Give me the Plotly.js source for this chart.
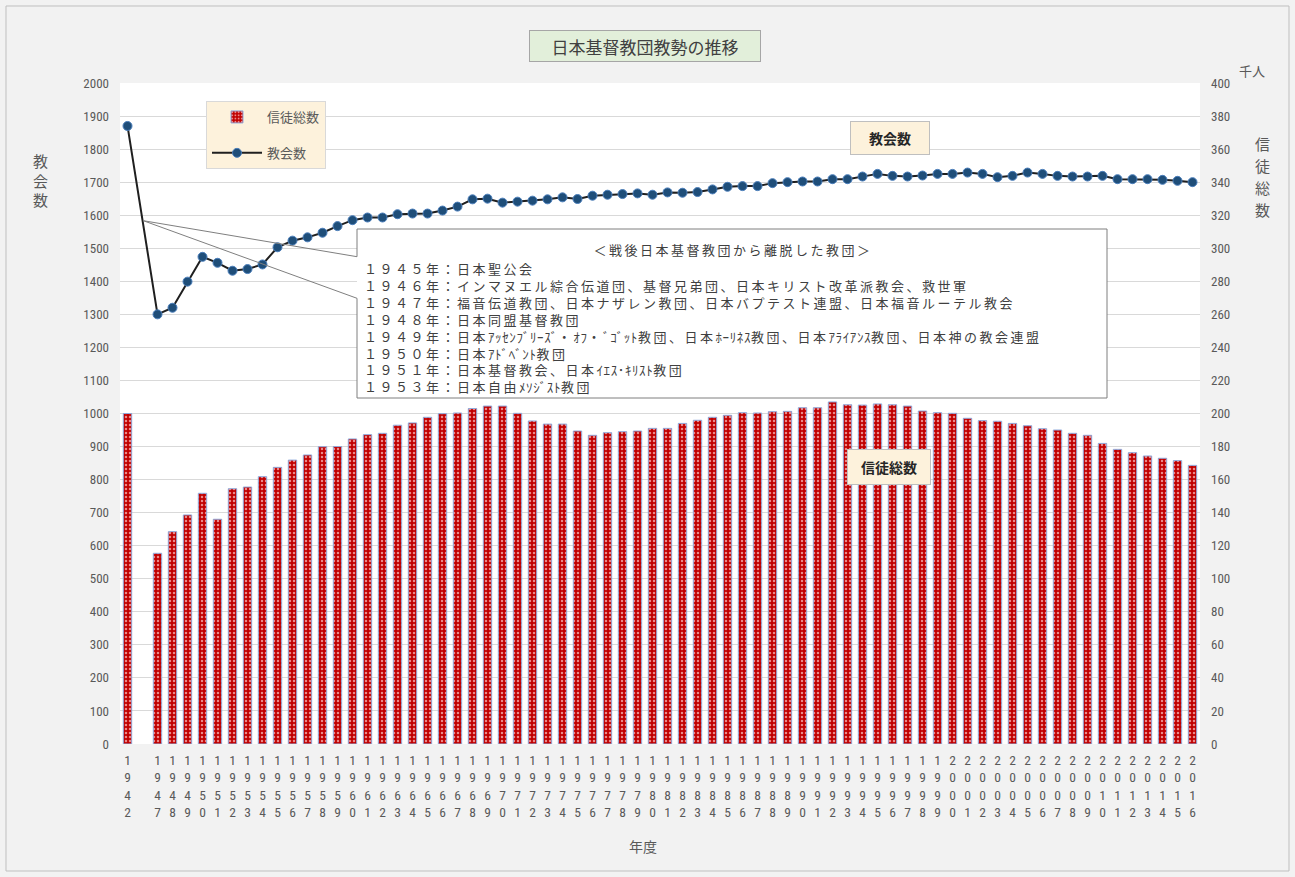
<!DOCTYPE html>
<html>
<head>
<meta charset="utf-8">
<script src="https://cdn.plot.ly/plotly-3.0.1.min.js"></script>
<style>
html,body{margin:0;padding:0;background:#f2f2f2;}
#chart{width:1295px;height:877px;}
g.annotation[data-index="7"] text, g.annotation[data-index="8"] text{letter-spacing:2.5px;}
</style>
</head>
<body>
<div id="chart"></div>
<script>
// ---- data ----
const categories = ["1942"," ","1947","1948","1949","1950","1951","1952","1953","1954","1955","1956","1957","1958","1959",
"1960","1961","1962","1963","1964","1965","1966","1967","1968","1969","1970","1971","1972","1973","1974","1975","1976",
"1977","1978","1979","1980","1981","1982","1983","1984","1985","1986","1987","1988","1989","1990","1991","1992","1993",
"1994","1995","1996","1997","1998","1999","2000","2001","2002","2003","2004","2005","2006","2007","2008","2009","2010",
"2011","2012","2013","2014","2015","2016"];

// 信徒総数 (千人)
const members = [200.0,null,115.4,128.5,138.6,151.7,136.0,154.5,155.5,161.8,167.4,171.8,174.9,179.9,180.0,
184.6,187.2,188.0,192.9,194.3,197.7,199.9,200.3,203.0,204.5,204.5,200.1,195.5,193.6,193.6,189.4,186.8,
188.4,189.0,189.4,191.0,191.0,194.0,195.9,197.7,198.9,200.5,200.3,201.1,201.3,203.5,203.5,207.0,205.3,
205.1,205.8,205.3,204.5,201.5,200.5,200.1,197.1,195.7,195.3,194.0,192.6,190.8,190.0,188.0,186.8,181.9,
178.3,176.3,174.3,172.9,171.5,168.6];

// 教会数
const churches = [1870,null,1300,1320,1399,1474,1456,1432,1437,1451,1503,1523,1533,1547,1567,
1585,1593,1593,1603,1605,1605,1614,1626,1648,1650,1638,1641,1644,1648,1654,1649,1659,
1662,1664,1666,1662,1669,1668,1670,1678,1686,1688,1688,1697,1700,1702,1702,1709,1709,
1717,1725,1719,1717,1720,1725,1725,1729,1725,1715,1719,1729,1725,1719,1717,1717,1719,
1709,1709,1709,1707,1704,1700];

const calloutTitle = "＜戦後日本基督教団から離脱した教団＞";
const calloutLines = [
  "１９４５年：日本聖公会",
  "１９４６年：インマヌエル綜合伝道団、基督兄弟団、日本キリスト改革派教会、救世軍",
  "１９４７年：福音伝道教団、日本ナザレン教団、日本バプテスト連盟、日本福音ルーテル教会",
  "１９４８年：日本同盟基督教団",
  "１９４９年：日本ｱｯｾﾝﾌﾞﾘｰｽﾞ・ｵﾌ・ﾞｺﾞｯﾄ教団、日本ﾎｰﾘﾈｽ教団、日本ｱﾗｲｱﾝｽ教団、日本神の教会連盟",
  "１９５０年：日本ｱﾄﾞﾍﾞﾝﾄ教団",
  "１９５１年：日本基督教会、日本ｲｴｽ･ｷﾘｽﾄ教団",
  "１９５３年：日本自由ﾒｿｼﾞｽﾄ教団"
];

// ---- helpers (pixel -> paper) ----
const L = 120, R = 1200, T = 83, B = 744;
const px = x => (x - L) / (R - L);
const py = y => (B - y) / (B - T);

const JP = "Noto Sans CJK JP, sans-serif";
const NARROW = "Liberation Sans Narrow, Arial Narrow, Roboto Condensed, Liberation Sans, sans-serif";
const tickText = categories.map(c => c.trim() === "" ? "" : c.split("").join("<br>"));
// half-width katakana runs are set tighter than full-width text
const tightenHalfwidth = s => s.replace(/([\uFF61-\uFF9F]+)/g, '<span style="letter-spacing:0.6px">$1</span>');

const traces = [
  {
    type: "bar", name: "信徒総数", x: categories, y: members, yaxis: "y2", legendgroup: "a",
    marker: {
      color: "#c00000",
      line: {color: "#8faadc", width: 1},
      pattern: {shape: ".", bgcolor: "#c00000", fgcolor: "#ec8a8a", size: 4, solidity: 0.3}
    },
    hoverinfo: "x+y"
  },
  {
    type: "scatter", mode: "lines+markers", name: "教会数", x: categories, y: churches, yaxis: "y",
    legendgroup: "b", connectgaps: true,
    line: {color: "#1f1f1f", width: 2},
    marker: {color: "#1f4e79", size: 9, line: {color: "#4a7ebb", width: 1}}
  }
];

const annotations = [
  {xref:"paper", yref:"paper", x:px(645), y:py(46), text:"日本基督教団教勢の推移", showarrow:false,
   font:{family:JP, size:17, color:"#404040"}, bgcolor:"#e2efda", bordercolor:"#a6a6a6", borderwidth:1,
   width:228, height:28, xanchor:"center", yanchor:"middle"},
  {xref:"paper", yref:"paper", x:px(890), y:py(138), text:"<b>教会数</b>", showarrow:false,
   font:{family:JP, size:14, color:"#262626"}, bgcolor:"#fdf2dc", bordercolor:"#bfbfbf", borderwidth:1,
   width:76, height:30, xanchor:"center", yanchor:"middle"},
  {xref:"paper", yref:"paper", x:px(889), y:py(467), text:"<b>信徒総数</b>", showarrow:false,
   font:{family:JP, size:14, color:"#262626"}, bgcolor:"#fdf2dc", bordercolor:"#bfbfbf", borderwidth:1,
   width:80, height:32, xanchor:"center", yanchor:"middle"},
  {xref:"paper", yref:"paper", x:px(40), y:py(180), text:"教<br>会<br>数", showarrow:false,
   font:{family:JP, size:15, color:"#595959"}, xanchor:"center", yanchor:"middle"},
  {xref:"paper", yref:"paper", x:px(1252), y:py(70), text:"千人", showarrow:false,
   font:{family:JP, size:13, color:"#595959"}, xanchor:"center", yanchor:"middle"},
  {xref:"paper", yref:"paper", x:px(643), y:py(846), text:"年度", showarrow:false,
   font:{family:JP, size:14, color:"#595959"}, xanchor:"center", yanchor:"middle"},
  {xref:"paper", yref:"paper", x:px(1262), y:py(143), text:"信", showarrow:false,
   font:{family:JP, size:15, color:"#595959"}, xanchor:"center", yanchor:"middle"},
  {xref:"paper", yref:"paper", x:px(733), y:py(249), text:calloutTitle, showarrow:false,
   font:{family:JP, size:13, color:"#404040"}, xanchor:"center", yanchor:"middle"},
  {xref:"paper", yref:"paper", x:px(362), y:py(327.5), text:calloutLines.map(tightenHalfwidth).join("<br>"), showarrow:false,
   align:"left", font:{family:JP, size:13, color:"#404040"}, xanchor:"left", yanchor:"middle"},
  {xref:"paper", yref:"paper", x:px(1262), y:py(165), text:"徒", showarrow:false,
   font:{family:JP, size:15, color:"#595959"}, xanchor:"center", yanchor:"middle"},
  {xref:"paper", yref:"paper", x:px(1262), y:py(187), text:"総", showarrow:false,
   font:{family:JP, size:15, color:"#595959"}, xanchor:"center", yanchor:"middle"},
  {xref:"paper", yref:"paper", x:px(1262), y:py(209), text:"数", showarrow:false,
   font:{family:JP, size:15, color:"#595959"}, xanchor:"center", yanchor:"middle"}
];

const gray = {color:"#7f7f7f", width:1};
const seg = (x0,y0,x1,y1,ln) => ({type:"line", xref:"paper", yref:"paper", x0:px(x0), y0:py(y0), x1:px(x1), y1:py(y1), line:ln||gray});
const shapes = [
  {type:"rect", xref:"paper", yref:"paper", x0:px(357), y0:py(229), x1:px(1107), y1:py(398),
   fillcolor:"#ffffff", line:{width:0}, layer:"above"},
  seg(357,229,1107,229), seg(1107,229,1107,398), seg(1107,398,357,398),
  seg(357,229,357,256.7), seg(357,298.3,357,398),
  seg(143.3,220.7,357,256.7), seg(143.3,220.7,357,298.3),
  {type:"rect", xref:"paper", yref:"paper", x0:px(6), y0:py(871), x1:px(1289), y1:py(6),
   line:{color:"#bfbfbf", width:1}, fillcolor:"rgba(0,0,0,0)", layer:"below"}
];

const layout = {
  width: 1295, height: 877,
  margin: {l: L, r: 1295 - R, t: T, b: 877 - B, pad: 0},
  paper_bgcolor: "#f2f2f2", plot_bgcolor: "#ffffff",
  showlegend: true,
  legend: {x: px(206), y: py(101), xanchor: "left", yanchor: "top",
    bgcolor: "#fdf2dc", bordercolor: "#d9d9d9", borderwidth: 1,
    font: {family: JP, size: 13, color: "#595959"},
    traceorder: "grouped", tracegroupgap: 16, itemwidth: 50},
  bargap: 0.44,
  xaxis: {
    type: "category", categoryorder: "array", categoryarray: categories,
    tickmode: "array", tickvals: categories, ticktext: tickText,
    range: [-0.5, categories.length - 0.5],
    showgrid: false, showline: false, ticks: "", zeroline: false,
    tickfont: {family: NARROW, size: 13.5, color: "#595959"},
    ticklabelstandoff: 6, fixedrange: true
  },
  yaxis: {
    range: [0, 2000], dtick: 100, tick0: 0,
    showgrid: true, gridcolor: "#d9d9d9", gridwidth: 1,
    zeroline: false, showline: false, ticks: "",
    tickfont: {family: NARROW, size: 13, color: "#595959"},
    ticklabelstandoff: 10
  },
  yaxis2: {
    range: [0, 400], dtick: 20, tick0: 0, overlaying: "y", side: "right",
    showgrid: false, zeroline: false, showline: false, ticks: "",
    tickfont: {family: NARROW, size: 13, color: "#595959"},
    ticklabelstandoff: 10
  },
  annotations: annotations,
  shapes: shapes
};

Plotly.newPlot("chart", traces, layout, {displayModeBar: false, staticPlot: true});
</script>
</body>
</html>
